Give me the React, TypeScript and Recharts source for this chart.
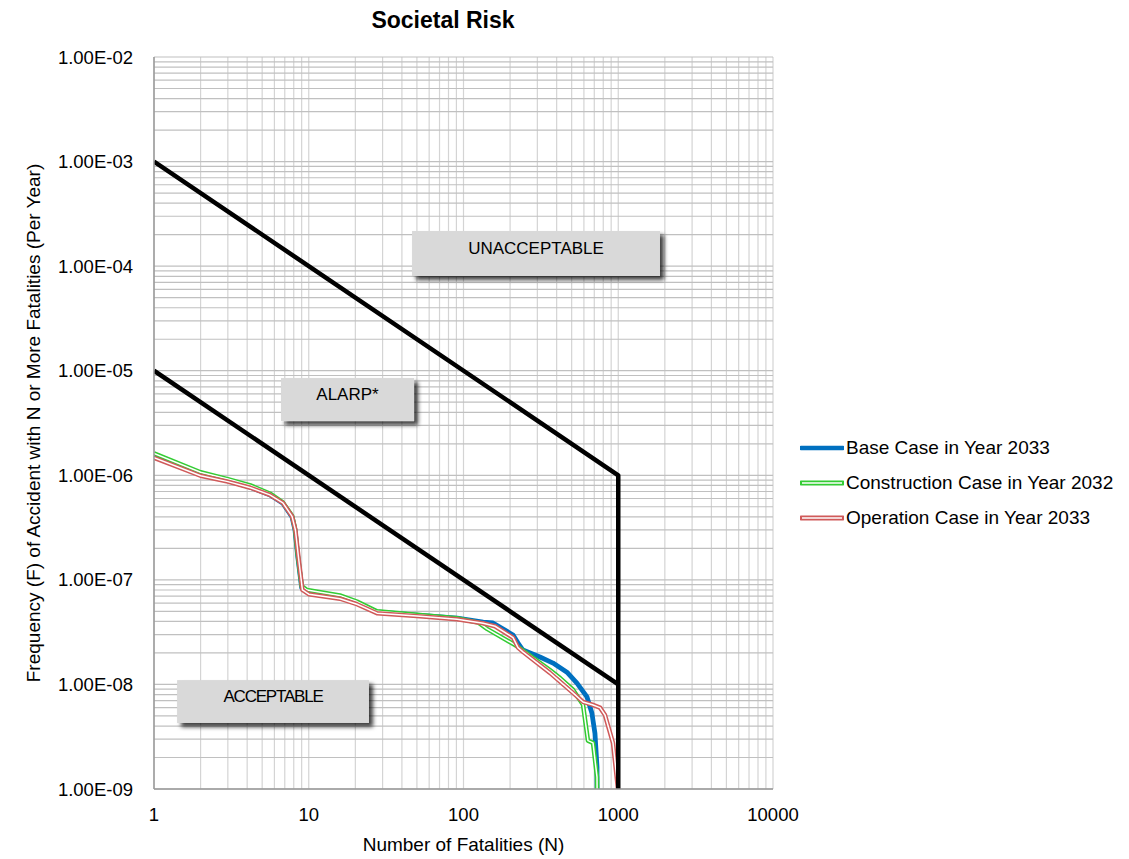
import React from 'react';
import { LineChart, Line, XAxis, YAxis, CartesianGrid, ReferenceArea, Legend, Label } from 'recharts';

const FONT = '"Liberation Sans", Arial, sans-serif';

// axis decades and the minor steps used for the log grid
const xDecades = [1, 10, 100, 1000, 10000];
const yDecades = [1e-9, 1e-8, 1e-7, 1e-6, 1e-5, 1e-4, 1e-3, 1e-2];
const minorSteps = [1, 2, 3, 4, 5, 6, 7, 8, 9];

const seriesNames = ['Base Case in Year 2033', 'Construction Case in Year 2032', 'Operation Case in Year 2033'];

// F-N curves
const baseN = [1, 2, 3, 4.2, 5.6, 6.8, 7.8, 8.15, 8.5, 9.0, 9.75, 10.2, 15.9, 20.5, 27.6, 50, 91, 134, 155, 209, 225, 242, 312, 379, 466, 541, 628, 676, 707, 729, 730];
const baseF = [1.55e-6, 1.03e-6, 8.9e-7, 7.7e-7, 6.5e-7, 5.4e-7, 4.0e-7, 3.0e-7, 1.65e-7, 8.4e-8, 7.7e-8, 7.65e-8, 6.85e-8, 6.0e-8, 4.93e-8, 4.6e-8, 4.3e-8, 3.95e-8, 3.87e-8, 2.97e-8, 2.49e-8, 2.13e-8, 1.83e-8, 1.6e-8, 1.31e-8, 1.03e-8, 7.6e-9, 5.3e-9, 3.4e-9, 1.62e-9, 1e-9];

const constructionN = [1, 2, 3, 4.2, 5.6, 6.8, 7.8, 8.15, 8.5, 9.0, 9.75, 15.9, 20.5, 27.6, 50, 91, 125, 142, 222, 362, 421, 510, 592, 637, 687, 729, 730];
const constructionF = [1.62e-6, 1.07e-6, 9.2e-7, 8.0e-7, 6.7e-7, 5.5e-7, 4.1e-7, 3.1e-7, 1.7e-7, 8.7e-8, 8.0e-8, 7.1e-8, 6.2e-8, 5.0e-8, 4.65e-8, 4.3e-8, 3.9e-8, 3.4e-8, 2.32e-8, 1.37e-8, 1.15e-8, 8.9e-9, 6.4e-9, 2.9e-9, 2.76e-9, 1.3e-9, 1e-9];

const operationN = [1, 2, 3, 4.2, 5.6, 6.8, 7.8, 8.2, 8.6, 9.1, 10, 15.9, 20.5, 27.6, 50, 91, 134, 160, 209, 225, 242, 362, 510, 592, 680, 762, 821, 925, 996];
const operationF = [1.47e-6, 9.9e-7, 8.7e-7, 7.6e-7, 6.5e-7, 5.45e-7, 4.05e-7, 3.0e-7, 1.6e-7, 8.0e-8, 7.3e-8, 6.6e-8, 5.85e-8, 4.8e-8, 4.5e-8, 4.2e-8, 3.85e-8, 3.6e-8, 2.8e-8, 2.25e-8, 2.05e-8, 1.29e-8, 8.3e-9, 6.8e-9, 6.4e-9, 6.0e-9, 5.1e-9, 2.75e-9, 1e-9];

// risk criteria lines
const upperN = [1, 1000, 1000];
const upperF = [1e-3, 1e-6, 1e-9];
const lowerN = [1, 1000];
const lowerF = [1e-5, 1e-8];

// region labels (data coordinates of the boxes)
const regions = [
  { label: 'UNACCEPTABLE', n1: 46.5, n2: 1861, f1: 8.05e-5, f2: 2.17e-4, spacing: 0 },
  { label: 'ALARP*', n1: 6.62, n2: 47.9, f1: 3.3e-6, f2: 8.51e-6, spacing: 0 },
  { label: 'ACCEPTABLE', n1: 1.41, n2: 24.5, f1: 4.28e-9, f2: 1.1e-8, spacing: -1.2 },
];

const zip = (n: number[], f: number[]) => n.map((v, i) => ({ n: v, f: f[i] }));

const xTicks = xDecades.flatMap((d, i) => (i === xDecades.length - 1 ? [d] : minorSteps.map((m) => m * d)));
const yTicks = yDecades.flatMap((d, i) => (i === yDecades.length - 1 ? [d] : minorSteps.map((m) => m * d)));

const isDecade = (v: number) => {
  const l = Math.log10(v);
  return Math.abs(l - Math.round(l)) < 1e-6;
};

const fmtX = (v: number) => (isDecade(v) ? String(Math.round(v)) : '');
const fmtY = (v: number) => {
  if (!isDecade(v)) return '';
  const e = Math.round(Math.log10(v));
  return `1.00E-${String(-e).padStart(2, '0')}`;
};

const legendItems = [
  { label: seriesNames[0], color: '#0070C0', double: false },
  { label: seriesNames[1], color: '#33CC33', double: true },
  { label: seriesNames[2], color: '#D05A5A', double: true },
];

const LegendContent = () => (
  <div style={{ fontFamily: FONT, fontSize: 19, color: '#000' }}>
    {legendItems.map((item) => (
      <div key={item.label} style={{ display: 'flex', alignItems: 'center', height: 35, whiteSpace: 'nowrap' }}>
        <svg width={44} height={10}>
          <line x1={1} x2={43} y1={5} y2={5} stroke={item.color} strokeWidth={item.double ? 5 : 4.5} strokeLinecap="round" />
          {item.double && <line x1={2} x2={42} y1={5} y2={5} stroke="#fff" strokeWidth={1.6} />}
        </svg>
        <span style={{ marginLeft: 2 }}>{item.label}</span>
      </div>
    ))}
  </div>
);

const regionShape = (label: string, spacing: number, idx: number) => (props: any) => {
  const { x, y, width, height } = props;
  const id = `shadow${idx}`;
  return (
    <g>
      <defs>
        <filter id={id} x="-10%" y="-20%" width="130%" height="160%">
          <feDropShadow dx={4} dy={4} stdDeviation={2.2} floodColor="#000" floodOpacity={0.75} />
        </filter>
      </defs>
      <rect x={x} y={y} width={width} height={height} fill="#D9D9D9" filter={`url(#${id})`} />
      <text
        x={x + width / 2}
        y={y + height * 0.39}
        textAnchor="middle"
        dominantBaseline="central"
        fontFamily={FONT}
        fontSize={17}
        letterSpacing={spacing}
        fill="#000"
      >
        {label}
      </text>
    </g>
  );
};

const seriesLine = (data: { n: number; f: number }[], color: string, width: number, key: string) => (
  <Line
    key={key}
    data={data}
    dataKey="f"
    type="linear"
    stroke={color}
    strokeWidth={width}
    strokeLinejoin="round"
    dot={false}
    activeDot={false}
    isAnimationActive={false}
    legendType="none"
  />
);

export default function App() {
  const base = zip(baseN, baseF);
  const construction = zip(constructionN, constructionF);
  const operation = zip(operationN, operationF);
  const upper = zip(upperN, upperF);
  const lower = zip(lowerN, lowerF);

  return (
    <div style={{ position: 'absolute', left: 0, top: 0, width: 1129, height: 859, background: '#fff' }}>
      <div
        style={{
          position: 'absolute',
          left: 293,
          top: 6,
          width: 300,
          textAlign: 'center',
          fontFamily: FONT,
          fontSize: 23,
          fontWeight: 'bold',
          lineHeight: '28px',
        }}
      >
        Societal Risk
      </div>
      <LineChart width={1129} height={859} margin={{ top: 57, right: 356, bottom: 0, left: 14 }}>
        <CartesianGrid horizontal={false} stroke="#D4D4D4" strokeWidth={1.2} />
        <CartesianGrid vertical={false} stroke="#C0C0C0" strokeWidth={1.2} />
        <XAxis
          dataKey="n"
          type="number"
          scale="log"
          domain={[1, 10000]}
          allowDataOverflow
          ticks={xTicks}
          interval={0}
          tickFormatter={fmtX}
          tickLine={false}
          tickSize={0}
          tickMargin={19}
          height={70}
          axisLine={{ stroke: '#999', strokeWidth: 1.5 }}
          tick={{ fill: '#000', fontSize: 18.5, fontFamily: FONT }}
        >
          <Label
            content={({ viewBox }: any) => (
              <text
                x={viewBox.x + viewBox.width / 2}
                y={viewBox.y + 62}
                textAnchor="middle"
                fontFamily={FONT}
                fontSize={19}
                fill="#000"
              >
                Number of Fatalities (N)
              </text>
            )}
          />
        </XAxis>
        <YAxis
          type="number"
          scale="log"
          domain={[1e-9, 1e-2]}
          allowDataOverflow
          ticks={yTicks}
          interval={0}
          tickFormatter={fmtY}
          tickLine={false}
          tickSize={0}
          tickMargin={21}
          width={140}
          axisLine={{ stroke: '#999', strokeWidth: 1.5 }}
          tick={{ fill: '#000', fontSize: 18.5, fontFamily: FONT }}
        >
          <Label
            content={({ viewBox }: any) => {
              const cx = 33;
              const cy = viewBox.y + viewBox.height / 2;
              return (
                <text
                  x={cx}
                  y={cy}
                  transform={`rotate(-90 ${cx} ${cy})`}
                  textAnchor="middle"
                  dominantBaseline="central"
                  fontFamily={FONT}
                  fontSize={19}
                  fill="#000"
                >
                  Frequency (F) of Accident with N or More Fatalities (Per Year)
                </text>
              );
            }}
          />
        </YAxis>

        {regions.map((r, i) => (
          <ReferenceArea
            key={r.label}
            x1={r.n1}
            x2={r.n2}
            y1={r.f1}
            y2={r.f2}
            shape={regionShape(r.label, r.spacing, i)}
          />
        ))}

        {seriesLine(base, '#0070C0', 4.8, 'base')}
        {seriesLine(construction, '#33CC33', 4.5, 'cons')}
        {seriesLine(construction, '#FFFFFF', 1.5, 'cons-in')}
        {seriesLine(operation, '#D05A5A', 4.5, 'op')}
        {seriesLine(operation, '#FFFFFF', 1.5, 'op-in')}
        {seriesLine(upper, '#000000', 4.5, 'upper')}
        {seriesLine(lower, '#000000', 4.5, 'lower')}

        <Legend
          layout="vertical"
          align="center"
          verticalAlign="middle"
          content={<LegendContent />}
          wrapperStyle={{ left: 800, top: 430, width: 329 }}
        />
      </LineChart>
    </div>
  );
}
